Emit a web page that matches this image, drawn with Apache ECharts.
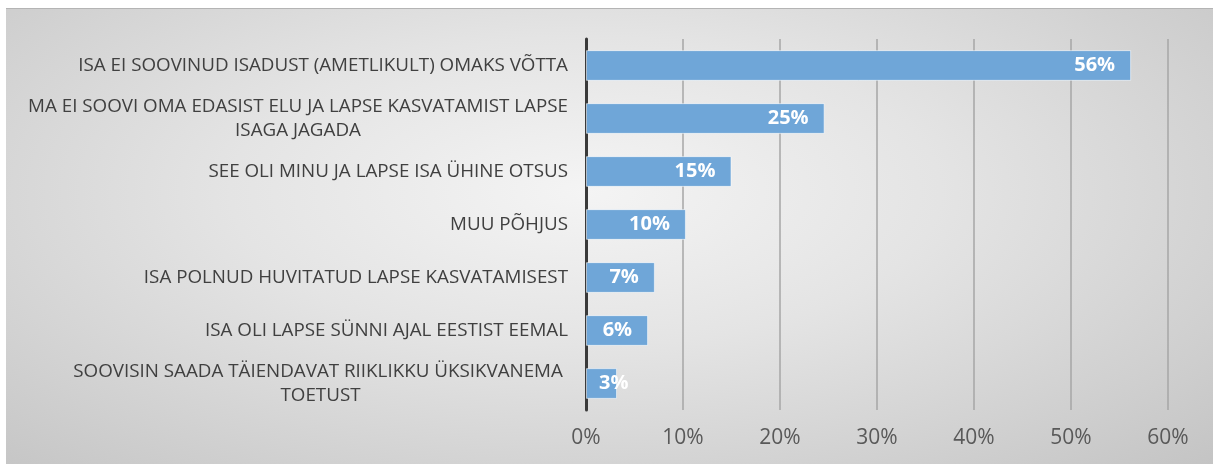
<!DOCTYPE html>
<html>
<head>
<meta charset="utf-8">
<script src="https://cdn.jsdelivr.net/npm/echarts@6/dist/echarts.min.js"></script>
<style>
  html, body { margin: 0; padding: 0; background: #fff; }
  #chart {
    position: absolute; left: 6px; top: 8px; width: 1207px; height: 456px;
    border-top: 1px solid #b4b4b4;
    background: radial-gradient(ellipse at 48% 40%, #f4f4f4 0%, #e4e4e4 40%, #c4c4c4 100%);
  }
</style>
</head>
<body>
<div id="chart"></div>
<script>
const categories = [
  "ISA EI SOOVINUD ISADUST (AMETLIKULT) OMAKS VÕTTA",
  "MA EI SOOVI OMA EDASIST ELU JA LAPSE KASVATAMIST LAPSE\nISAGA JAGADA",
  "SEE OLI MINU JA LAPSE ISA ÜHINE OTSUS",
  "MUU PÕHJUS",
  "ISA POLNUD HUVITATUD LAPSE KASVATAMISEST",
  "ISA OLI LAPSE SÜNNI AJAL EESTIST EEMAL",
  "SOOVISIN SAADA TÄIENDAVAT RIIKLIKKU ÜKSIKVANEMA \nTOETUST"
];
const shares = [56.2, 24.6, 15.0, 10.3, 7.1, 6.4, 3.2];

const labelFont = "Open Sans";
const labelSize = 18.8;

// wrapped labels: lines centred inside a box as wide as the longest line
const ctx = document.createElement("canvas").getContext("2d");
ctx.font = labelSize + "px '" + labelFont + "'";
const rich = {};
categories.forEach((c, i) => {
  const w = Math.max(...c.split("\n").map(s => ctx.measureText(s).width));
  rich["c" + i] = { width: Math.ceil(w), align: "center", fontSize: labelSize,
    fontFamily: labelFont, color: "#404040", lineHeight: 24 };
});

const chart = echarts.init(document.getElementById("chart"));
chart.setOption({
  textStyle: { fontFamily: labelFont },
  grid: { left: 580, right: 45, top: 30, bottom: 55 },
  xAxis: {
    type: "value", min: 0, max: 60, interval: 10,
    axisLabel: { formatter: "{value}%", fontSize: 21, color: "#595959", margin: 18 },
    splitLine: { lineStyle: { color: "#a6a6a6", width: 1.5 } },
    axisLine: { show: false }, axisTick: { show: false }
  },
  yAxis: {
    type: "category", inverse: true, data: categories,
    axisLine: { lineStyle: { color: "#3a3a3a", width: 3 } },
    axisTick: { show: false },
    axisLabel: {
      fontSize: labelSize, color: "#404040", margin: 18, lineHeight: 24, rich: rich,
      formatter: (v, i) => v.indexOf("\n") < 0 ? v
        : v.split("\n").map(s => "{c" + i + "|" + s + "}").join("\n")
    }
  },
  series: [{
    type: "bar", barCategoryGap: "42%",
    data: shares.map(v => ({
      value: v,
      label: v < 5 ? { position: "insideLeft", distance: 13 } : {}
    })),
    itemStyle: { color: "#6fa6d8", borderColor: "rgba(255,255,255,0.55)", borderWidth: 1 },
    label: {
      show: true, position: "insideRight", distance: 16,
      color: "#fff", fontWeight: "bold", fontSize: 20,
      formatter: p => Math.round(p.value) + "%"
    }
  }]
});
</script>
</body>
</html>
